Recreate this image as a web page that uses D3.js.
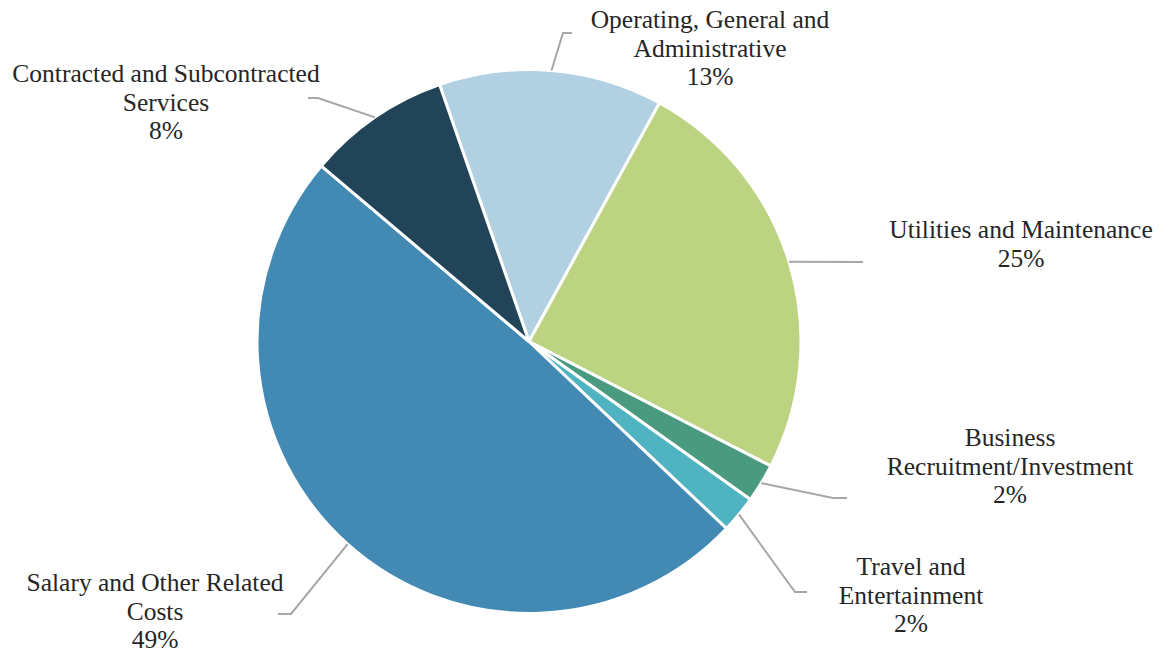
<!DOCTYPE html>
<html>
<head>
<meta charset="utf-8">
<script src="https://cdn.jsdelivr.net/npm/d3@7"></script>
<style>
  html, body { margin: 0; padding: 0; background: #fff; }
  svg { display: block; }
  .lbl { font-family: "Liberation Serif", "Times New Roman", serif; font-size: 25.5px; fill: #262626; }
</style>
</head>
<body>
<div id="chart"></div>
<script>
// categories, shares (%) and the printed labels
var categories = [
    "Operating, General and Administrative",
    "Utilities and Maintenance",
    "Business Recruitment/Investment",
    "Travel and Entertainment",
    "Salary and Other Related Costs",
    "Contracted and Subcontracted Services"
];
var shares = [13.3, 24.6, 2.3, 2.2, 49.1, 8.5];
var pctLabels = ["13%", "25%", "2%", "2%", "49%", "8%"];
var labelLines = [
    ["Operating, General and", "Administrative"],
    ["Utilities and Maintenance"],
    ["Business", "Recruitment/Investment"],
    ["Travel and", "Entertainment"],
    ["Salary and Other Related", "Costs"],
    ["Contracted and Subcontracted", "Services"]
];
var colors = ["#b1d1e3", "#bcd482", "#4a9a80", "#4fb3c1", "#428ab4", "#214459"];

// label layout: text centre x, first line y, elbow point, end point of leader
var layout = [
    { tx: 710, ty: 28, elbow: [563, 33], end: [572, 33] },
    { tx: 1021, ty: 238, elbow: [860, 262], end: [863, 262] },
    { tx: 1010, ty: 446, elbow: [833, 498], end: [847, 498] },
    { tx: 911, ty: 575, elbow: [795, 592], end: [807, 592] },
    { tx: 155, ty: 591, elbow: [291, 614], end: [278, 614] },
    { tx: 166, ty: 82, elbow: [318, 98], end: [308, 98] }
];

var width = 1163, height = 654;
var cx = 529, cy = 341.5, radius = 272;
var lineH = 28.5;

var svg = d3.select("#chart").append("svg")
    .attr("width", width)
    .attr("height", height);

var g = svg.append("g").attr("transform", "translate(" + cx + "," + cy + ")");

var startA = -19.2 * Math.PI / 180;
var pie = d3.pie().sort(null).value(function (d) { return d; })
    .startAngle(startA).endAngle(startA + 2 * Math.PI);
var arcs = pie(shares);

var arc = d3.arc().innerRadius(0).outerRadius(radius);

g.selectAll("path.slice")
    .data(arcs)
    .enter().append("path")
    .attr("class", "slice")
    .attr("d", arc)
    .attr("fill", function (d, i) { return colors[i]; })
    .attr("stroke", "#fff")
    .attr("stroke-width", 3)
    .attr("stroke-linejoin", "round");

// leader lines from slice edge
var edge = d3.arc().innerRadius(radius).outerRadius(radius);
svg.selectAll("polyline.leader")
    .data(arcs)
    .enter().append("polyline")
    .attr("class", "leader")
    .attr("points", function (d, i) {
        var p = edge.centroid(d);
        var L = layout[i];
        return [[p[0] + cx, p[1] + cy], L.elbow, L.end].map(function (q) { return q.join(","); }).join(" ");
    })
    .attr("fill", "none")
    .attr("stroke", "#a6a6a6")
    .attr("stroke-width", 2);

// labels
var labels = svg.selectAll("text.lbl")
    .data(arcs)
    .enter().append("text")
    .attr("class", "lbl")
    .attr("text-anchor", "middle")
    .attr("x", function (d, i) { return layout[i].tx; })
    .attr("y", function (d, i) { return layout[i].ty; });

labels.each(function (d, i) {
    var t = d3.select(this);
    var lines = labelLines[i].concat([pctLabels[i]]);
    lines.forEach(function (s, k) {
        t.append("tspan")
            .attr("x", layout[i].tx)
            .attr("dy", k === 0 ? 0 : lineH)
            .text(s);
    });
});
</script>
</body>
</html>
